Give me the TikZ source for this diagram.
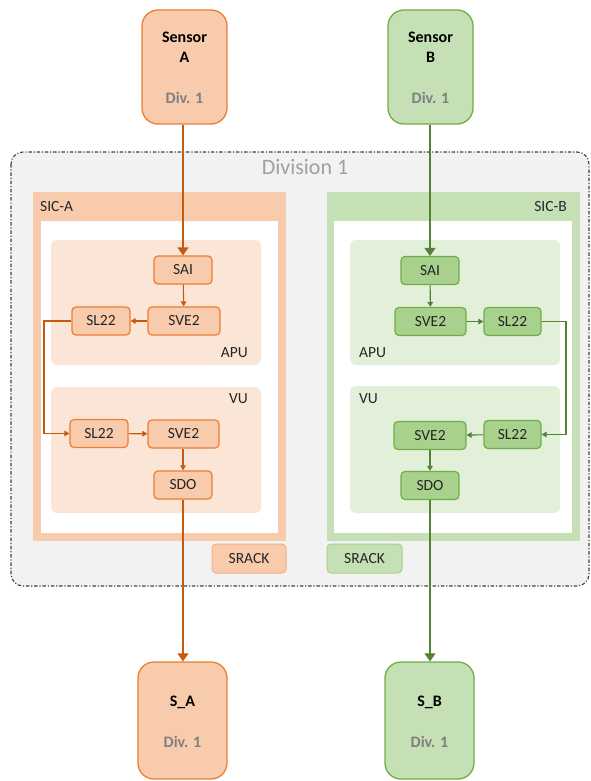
\documentclass[tikz,border=0pt]{standalone}
\usepackage{fontspec}
\setmainfont{Carlito}
\usetikzlibrary{arrows.meta}

\definecolor{orFill}{HTML}{F8CBAD}
\definecolor{orLine}{HTML}{ED7D31}
\definecolor{orDark}{HTML}{C55A11}
\definecolor{orPale}{HTML}{FBE5D6}
\definecolor{orSoft}{HTML}{F4B183}
\definecolor{grFill}{HTML}{C5E0B4}
\definecolor{grNode}{HTML}{A9D18E}
\definecolor{grLine}{HTML}{70AD47}
\definecolor{grDark}{HTML}{548235}
\definecolor{grPale}{HTML}{E2F0D9}
\definecolor{divFill}{HTML}{F2F2F2}
\definecolor{divLine}{HTML}{404040}
\definecolor{txtGrey}{HTML}{7F7F7F}
\definecolor{divTxt}{HTML}{A0A0A0}
\definecolor{txtDark}{HTML}{262626}

\tikzset{
  lbl/.style={font=\fontsize{15.5}{18}\selectfont, text=txtDark, inner sep=0},
  endpoint/.style={rounded corners=16pt, draw, line width=1.3pt, minimum width=85pt,
    minimum height=114pt, inner sep=0},
  eptitle/.style={font=\fontsize{16}{18}\selectfont\bfseries, text=black, inner sep=0},
  epdiv/.style={font=\fontsize{16}{18}\selectfont\bfseries, text=txtGrey, inner sep=0},
  unitA/.style={rounded corners=4pt, draw=orLine, fill=orFill, line width=1.2pt,
    minimum height=28pt, minimum width=58pt, inner sep=0, lbl},
  unitB/.style={rounded corners=4pt, draw=grLine, fill=grNode, line width=1.2pt,
    minimum height=28pt, minimum width=58pt, inner sep=0, lbl},
  flowA/.style={draw=orDark, line width=1.1pt, -{Triangle[width=5.5pt,length=5pt]}},
  flowB/.style={draw=grDark, line width=1.1pt, -{Triangle[width=5.5pt,length=5pt]}},
  bigA/.style={draw=orDark, line width=1.2pt, -{Triangle[width=11pt,length=8pt]}},
  bigB/.style={draw=grDark, line width=1.2pt, -{Triangle[width=11pt,length=8pt]}},
}

\begin{document}
\begin{tikzpicture}[x=1pt,y=-1pt]
\useasboundingbox (0,0) rectangle (591,781);

% Division frame
\draw[fill=divFill, draw=divLine, line width=1.1pt, rounded corners=12pt,
  dash pattern=on 3.5pt off 1.8pt on 1.2pt off 1.8pt] (11,152) rectangle (589,586);
\node[font=\fontsize{22}{26}\selectfont, text=divTxt, inner sep=0] (divlbl) at (305,167) {Division 1};

% SIC-A frame
\fill[orFill] (33,192) rectangle (286,541);
\fill[white] (41,221) rectangle (278,533);
\node[lbl, anchor=west] (sicA) at (40,207) {SIC-A};
\fill[orPale, rounded corners=6pt] (51,240) rectangle (261,365);
\fill[orPale, rounded corners=6pt] (51,387) rectangle (261,513);
\node[lbl, anchor=east] (apuA) at (248,353) {APU};
\node[lbl, anchor=east] (vuA) at (248,399) {VU};

% SIC-B frame
\fill[grFill] (327,192) rectangle (580,541);
\fill[white] (334,221) rectangle (572,533);
\node[lbl, anchor=east] (sicB) at (567,207) {SIC-B};
\fill[grPale, rounded corners=6pt] (350,240) rectangle (560,365);
\fill[grPale, rounded corners=6pt] (350,386) rectangle (560,513);
\node[lbl, anchor=west] (apuB) at (359,353) {APU};
\node[lbl, anchor=west] (vuB) at (359,399) {VU};

% Racks
\node[rounded corners=4pt, draw=orSoft, fill=orFill, line width=1pt, minimum width=74pt,
  minimum height=29pt, inner sep=0, lbl] (rackA) at (249,558.5) {SRACK};
\node[rounded corners=4pt, draw=grNode, fill=grFill, line width=1pt, minimum width=75pt,
  minimum height=29pt, inner sep=0, lbl] (rackB) at (364.5,558.5) {SRACK};

% Sensors and sinks
\node[endpoint, draw=orLine, fill=orFill] (sensA) at (184.5,67) {};
\node[eptitle] (sensAt1) at (184.5,37) {Sensor};
\node[eptitle] (sensAt2) at (184.5,57) {A};
\node[epdiv] (sensAd) at (184.5,98) {Div. 1};

\node[endpoint, draw=grLine, fill=grFill] (sensB) at (430.5,67) {};
\node[eptitle] (sensBt1) at (430.5,37) {Sensor};
\node[eptitle] (sensBt2) at (430.5,57) {B};
\node[epdiv] (sensBd) at (430.5,98) {Div. 1};

\node[endpoint, draw=orLine, fill=orFill, minimum width=89pt, minimum height=117pt] (sinkA) at (182.5,720.5) {};
\node[eptitle] (sinkAt) at (182.5,702) {S\_A};
\node[epdiv] (sinkAd) at (182.5,742) {Div. 1};

\node[endpoint, draw=grLine, fill=grFill, minimum width=89pt, minimum height=117pt] (sinkB) at (429.5,720.5) {};
\node[eptitle] (sinkBt) at (429.5,702) {S\_B};
\node[epdiv] (sinkBd) at (429.5,742) {Div. 1};

% Channel A units
\node[unitA] (saiA) at (183,270) {SAI};
\node[unitA, minimum width=72pt] (sveA1) at (184,321) {SVE2};
\node[unitA] (slA1) at (101,321) {SL22};
\node[unitA] (slA2) at (99,433.5) {SL22};
\node[unitA, minimum width=71pt] (sveA2) at (183.5,434) {SVE2};
\node[unitA] (sdoA) at (183,485) {SDO};

% Channel B units
\node[unitB] (saiB) at (430,270.5) {SAI};
\node[unitB, minimum width=71pt] (sveB1) at (430.5,321.5) {SVE2};
\node[unitB, minimum width=57pt] (slB1) at (512.5,321.5) {SL22};
\node[unitB, minimum width=57pt] (slB2) at (512.5,434.5) {SL22};
\node[unitB, minimum width=72pt] (sveB2) at (430,435.5) {SVE2};
\node[unitB] (sdoB) at (430,485.5) {SDO};

\coordinate (bendA1) at (44,321);
\coordinate (bendA2) at (44,433.5);
\coordinate (bendB1) at (566,321.5);
\coordinate (bendB2) at (566,434.5);

% Channel A signal path
\draw[bigA] (sensA.south -| saiA.north) -- (saiA.north);
\draw[flowA] (saiA) -- (sveA1);
\draw[flowA] (sveA1) -- (slA1);
\draw[flowA] (slA1.west) -- (bendA1) -- (bendA2) -- (slA2.west);
\draw[flowA] (slA2) -- (sveA2);
\draw[flowA] (sveA2.south -| sdoA.north) -- (sdoA.north);
\draw[bigA] (sdoA.south) -- (sdoA.south |- sinkA.north);

% Channel B signal path
\draw[bigB] (sensB.south -| saiB.north) -- (saiB.north);
\draw[flowB] (saiB) -- (sveB1);
\draw[flowB] (sveB1) -- (slB1);
\draw[flowB] (slB1.east) -- (bendB1) -- (bendB2) -- (slB2.east);
\draw[flowB] (slB2) -- (sveB2);
\draw[flowB] (sveB2) -- (sdoB);
\draw[bigB] (sdoB.south) -- (sdoB.south |- sinkB.north);
\end{tikzpicture}
\end{document}
